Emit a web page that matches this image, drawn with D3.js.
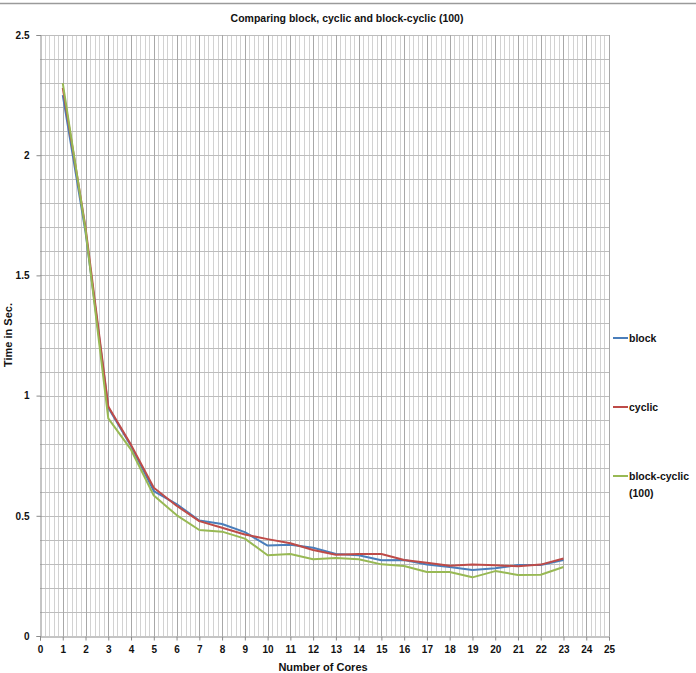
<!DOCTYPE html>
<html>
<head>
<meta charset="utf-8">
<script src="https://cdn.jsdelivr.net/npm/d3@7"></script>
<style>
  body { margin: 0; background: #fff; }
  text { font-family: "Liberation Sans", Arial, sans-serif; font-weight: bold; fill: #111; }
</style>
</head>
<body>
<div id="chart"></div>
<script>
var cores = [1, 2, 3, 4, 5, 6, 7, 8, 9, 10, 11, 12, 13, 14, 15, 16, 17, 18, 19, 20, 21, 22, 23];
var blockTimes = [2.25, 1.68, 0.95, 0.79, 0.603, 0.549, 0.48, 0.466, 0.432, 0.376, 0.38, 0.367, 0.341, 0.336, 0.315, 0.316, 0.297, 0.287, 0.275, 0.282, 0.295, 0.295, 0.316];
var cyclicTimes = [2.28, 1.70, 0.955, 0.795, 0.617, 0.542, 0.478, 0.45, 0.422, 0.403, 0.386, 0.358, 0.338, 0.341, 0.341, 0.316, 0.305, 0.292, 0.297, 0.294, 0.29, 0.297, 0.322];
var blockCyclicTimes = [2.30, 1.69, 0.905, 0.775, 0.584, 0.503, 0.441, 0.434, 0.405, 0.336, 0.341, 0.319, 0.324, 0.319, 0.298, 0.291, 0.266, 0.266, 0.244, 0.27, 0.254, 0.255, 0.287];
var seriesNames = ["block", "cyclic", "block-cyclic (100)"];
var yTicks = [0, 0.5, 1, 1.5, 2, 2.5];
var xTicks = d3.range(0, 26);

var width = 696, height = 673;
var margin = { top: 35, right: 87, bottom: 37, left: 40 };
var color = ["#4a7ebb", "#be4b48", "#98b954"];

var svg = d3.select("#chart").append("svg")
    .attr("width", width)
    .attr("height", height);

// page separator at the top
svg.append("line")
    .attr("x1", 0).attr("x2", width)
    .attr("y1", 3.5).attr("y2", 3.5)
    .attr("stroke", "#9a9a9a")
    .attr("stroke-width", 1.5);

var x = d3.scaleLinear().domain([0, 25]).range([margin.left, width - margin.right]);
var y = d3.scaleLinear().domain([0, 2.5]).range([height - margin.bottom, margin.top]);

var grid = svg.append("g").attr("class", "grid");

// minor vertical lines every 0.2
grid.selectAll(".vminor")
    .data(d3.range(0, 125).map(function(i) { return i * 0.2; }).filter(function(d, i) { return i % 5 != 0; }))
    .enter().append("line")
    .attr("x1", function(d) { return Math.round(x(d)) + 0.5; })
    .attr("x2", function(d) { return Math.round(x(d)) + 0.5; })
    .attr("y1", y(2.5)).attr("y2", y(0))
    .attr("stroke", "#d2d2d2");

// horizontal lines every 0.1
grid.selectAll(".hline")
    .data(d3.range(1, 26).map(function(i) { return i / 10; }))
    .enter().append("line")
    .attr("x1", x(0)).attr("x2", x(25))
    .attr("y1", function(d) { return Math.round(y(d)) + 0.5; })
    .attr("y2", function(d) { return Math.round(y(d)) + 0.5; })
    .attr("stroke", "#bdbdbd");

// major vertical lines at each core count
grid.selectAll(".vmajor")
    .data(xTicks.slice(1))
    .enter().append("line")
    .attr("x1", function(d) { return Math.round(x(d)) + 0.5; })
    .attr("x2", function(d) { return Math.round(x(d)) + 0.5; })
    .attr("y1", y(2.5)).attr("y2", y(0))
    .attr("stroke", "#a8a8a8");

// axes
var xAxis = d3.axisBottom(x).tickValues(xTicks).tickSize(4).tickPadding(5);
var yAxis = d3.axisLeft(y).tickValues(yTicks).tickSize(4).tickPadding(7)
    .tickFormat(function(d) { return d; });

var gx = svg.append("g")
    .attr("transform", "translate(0," + (Math.round(y(0)) + 0.5) + ")")
    .call(xAxis);
var gy = svg.append("g")
    .attr("transform", "translate(" + (Math.round(x(0)) + 0.5) + ",0)")
    .call(yAxis);

[gx, gy].forEach(function(g) {
    g.select(".domain").attr("stroke", "#8a8a8a");
    g.selectAll(".tick line").attr("stroke", "#8a8a8a");
    g.selectAll(".tick text")
        .style("font-family", "Liberation Sans, Arial, sans-serif")
        .style("font-weight", "bold")
        .style("font-size", "10px")
        .attr("fill", "#111");
});

// series lines
var line = d3.line()
    .x(function(d, i) { return x(cores[i]); })
    .y(function(d) { return y(d); });

var allSeries = [blockTimes, cyclicTimes, blockCyclicTimes];
svg.append("g").selectAll("path")
    .data(allSeries)
    .enter().append("path")
    .attr("d", line)
    .attr("fill", "none")
    .attr("stroke", function(d, i) { return color[i]; })
    .attr("stroke-width", 2)
    .attr("stroke-linejoin", "round");

// title
svg.append("text")
    .attr("x", 347)
    .attr("y", 22)
    .attr("text-anchor", "middle")
    .style("font-size", "10.5px")
    .text("Comparing block, cyclic and block-cyclic (100)");

// axis titles
svg.append("text")
    .attr("x", 323)
    .attr("y", 671)
    .attr("text-anchor", "middle")
    .style("font-size", "11px")
    .text("Number of Cores");

svg.append("text")
    .attr("transform", "translate(12,335) rotate(-90)")
    .attr("text-anchor", "middle")
    .style("font-size", "11px")
    .text("Time in Sec.");

// legend
var legendY = [338, 407, 476];
var legend = svg.selectAll(".legend")
    .data(seriesNames)
    .enter().append("g")
    .attr("class", "legend")
    .attr("transform", function(d, i) { return "translate(613," + legendY[i] + ")"; });

legend.append("line")
    .attr("x1", 0).attr("x2", 15)
    .attr("y1", 0).attr("y2", 0)
    .attr("stroke", function(d, i) { return color[i]; })
    .attr("stroke-width", 2);

legend.append("text")
    .attr("x", 16)
    .attr("y", 4)
    .style("font-size", "10.5px")
    .each(function(d) {
        var parts = d == "block-cyclic (100)" ? ["block-cyclic", "(100)"] : [d];
        var t = d3.select(this);
        parts.forEach(function(p, k) {
            t.append("tspan").attr("x", 16).attr("dy", k == 0 ? 0 : 17).text(p);
        });
    });
</script>
</body>
</html>
